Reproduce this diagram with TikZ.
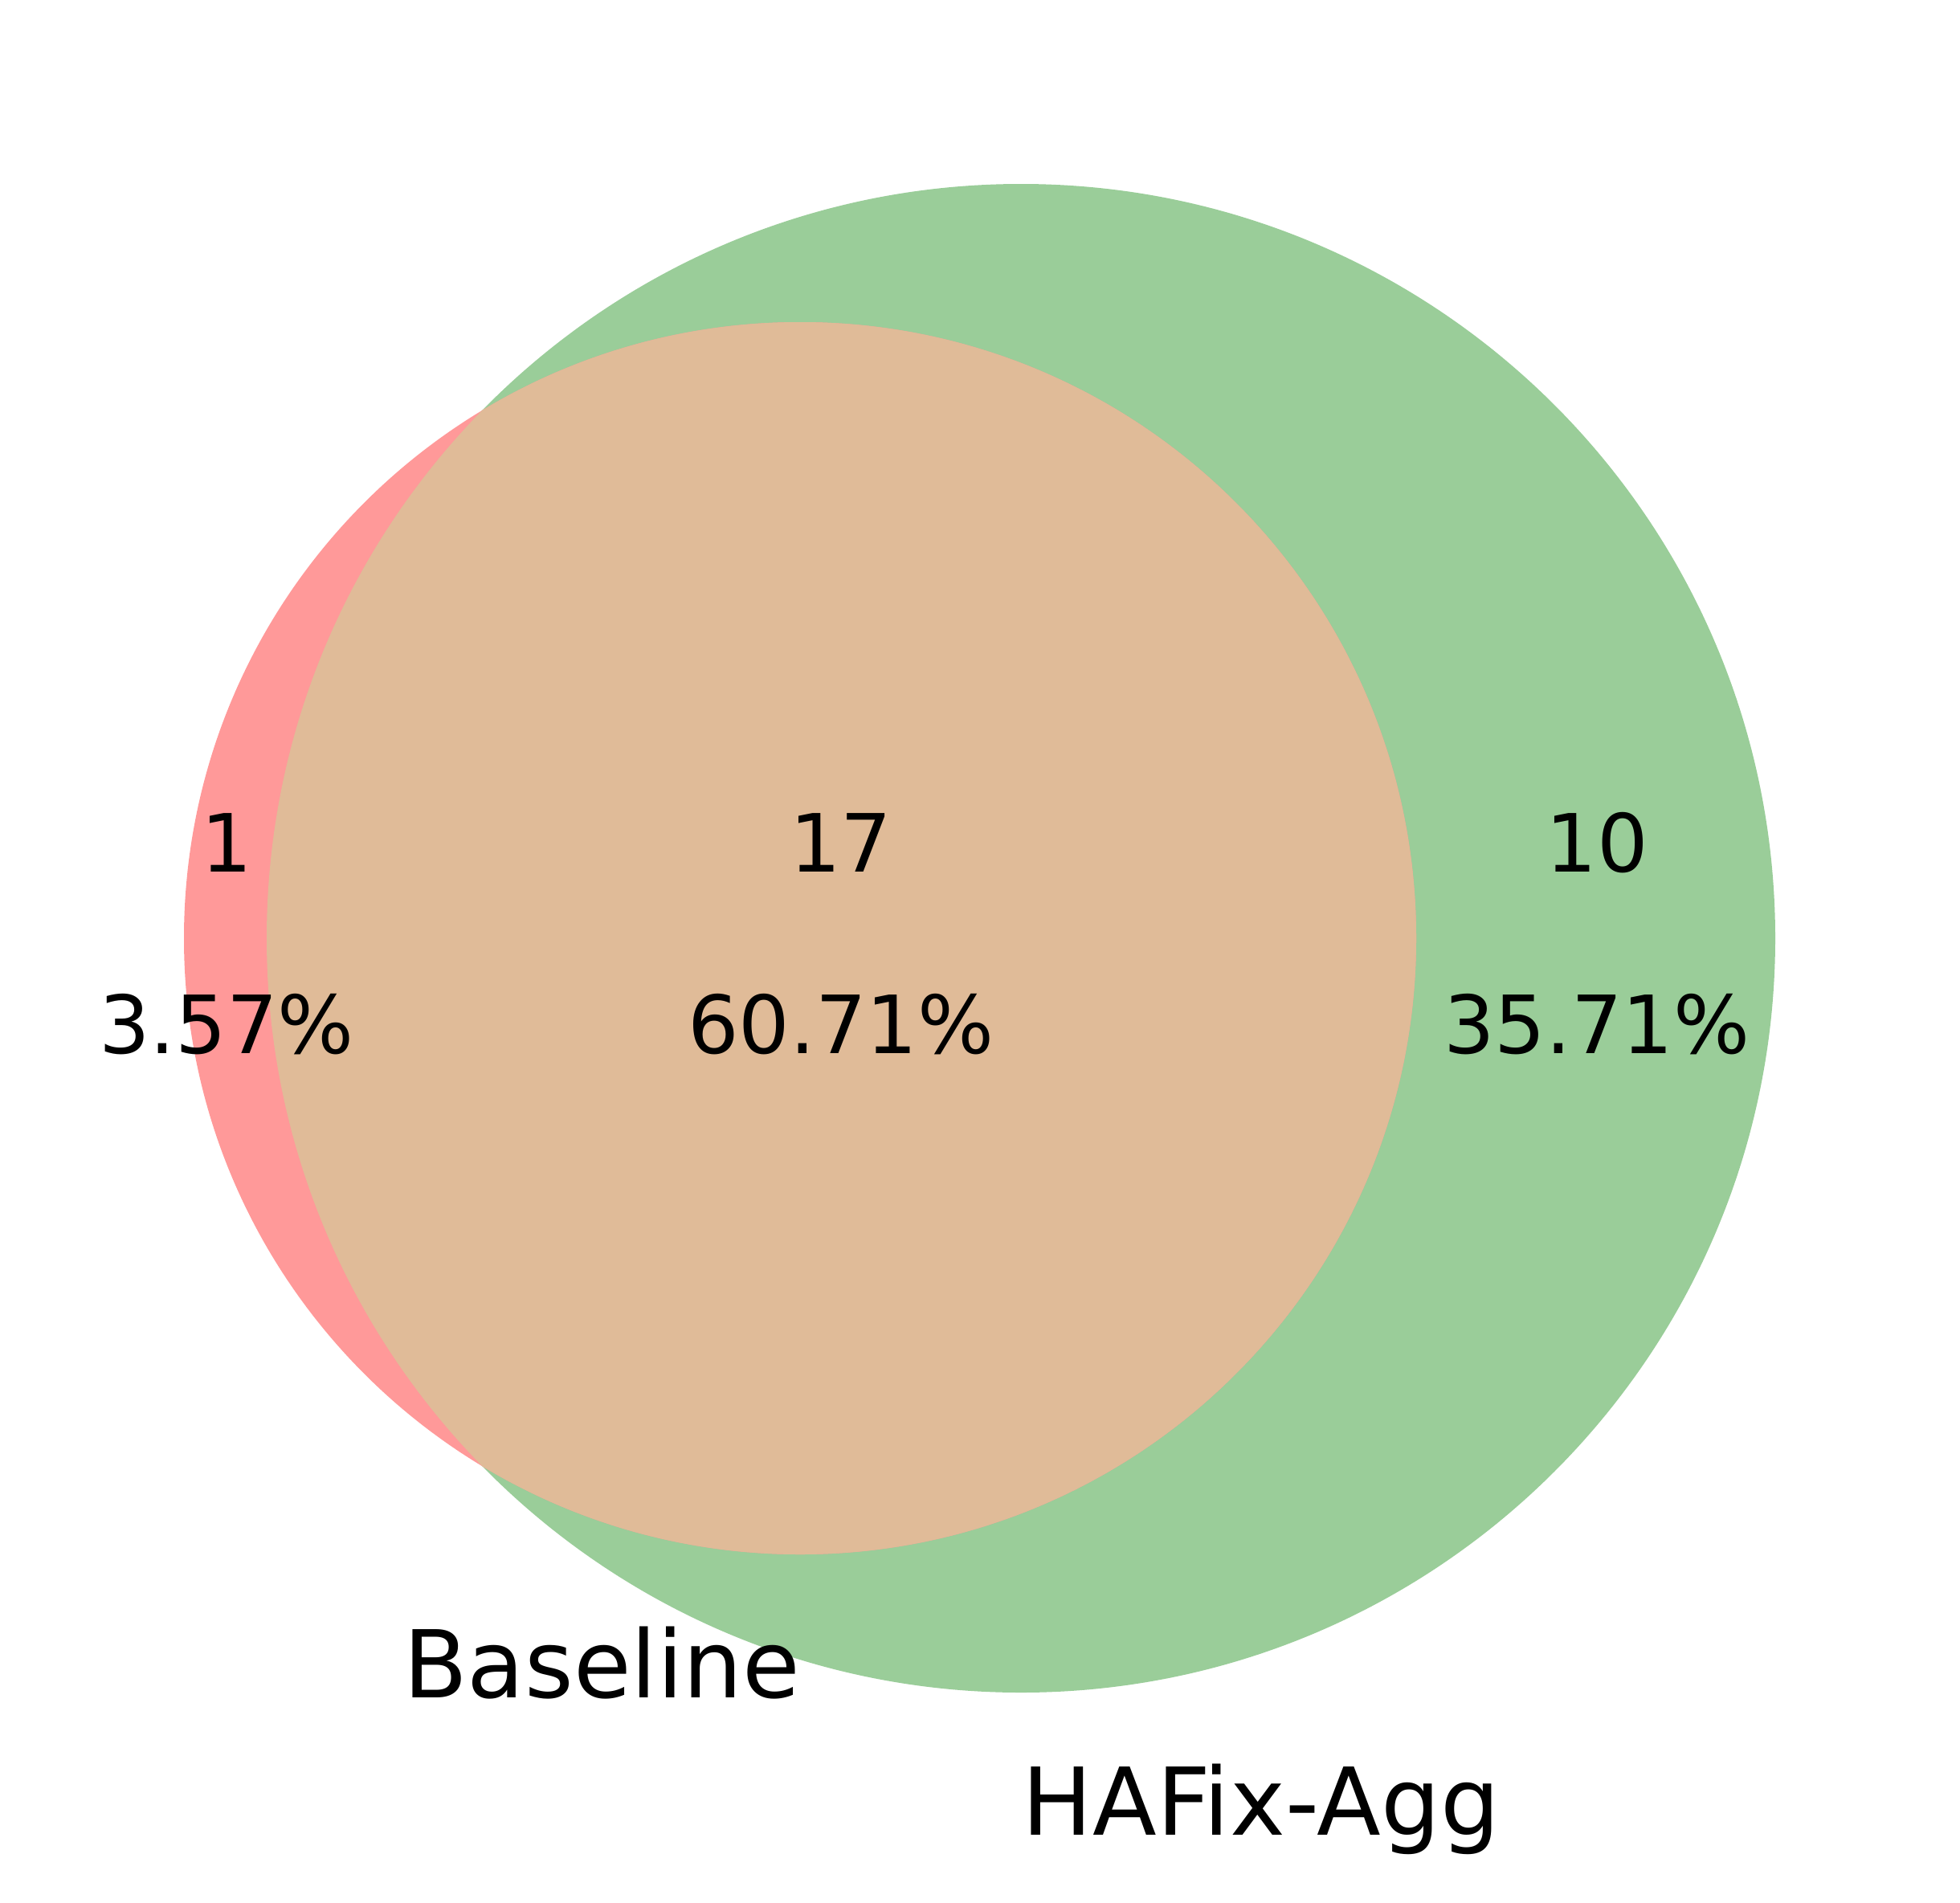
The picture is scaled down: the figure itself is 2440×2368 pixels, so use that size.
\documentclass[tikz,border=0pt]{standalone}
\usepackage{fontspec}
\setmainfont{DejaVu Sans}
\definecolor{setA}{HTML}{FF9999}
\definecolor{setB}{HTML}{9ACD99}
\definecolor{setAB}{HTML}{E0BB98}
\begin{document}
\begin{tikzpicture}[x=1pt,y=-1pt,
  countlbl/.style={anchor=base,inner sep=0pt,font=\fontsize{100}{120}\selectfont},
  setlbl/.style={anchor=base,inner sep=0pt,font=\fontsize{116.5}{140}\selectfont}]
\useasboundingbox (0,0) rectangle (2440,2368);
% circles
\fill[setB] (1271,1168) circle[radius=939];
\fill[setA] (996,1168) circle[radius=767];
\begin{scope}
  \clip (1271,1168) circle[radius=939];
  \fill[setAB] (996,1168) circle[radius=767];
\end{scope}
% region counts
\node[countlbl] (c10) at (282,1085) {1};
\node[countlbl] (p10) at (282,1311) {3.57\%};
\node[countlbl] (c11) at (1047,1085) {17};
\node[countlbl] (p11) at (1047,1311) {60.71\%};
\node[countlbl] (c01) at (1988,1085) {10};
\node[countlbl] (p01) at (1988,1311) {35.71\%};
% set labels
\node[setlbl] (la) at (749,2113) {Baseline};
\node[setlbl] (lb) at (1570,2284) {HAFix-Agg};
\end{tikzpicture}
\end{document}
